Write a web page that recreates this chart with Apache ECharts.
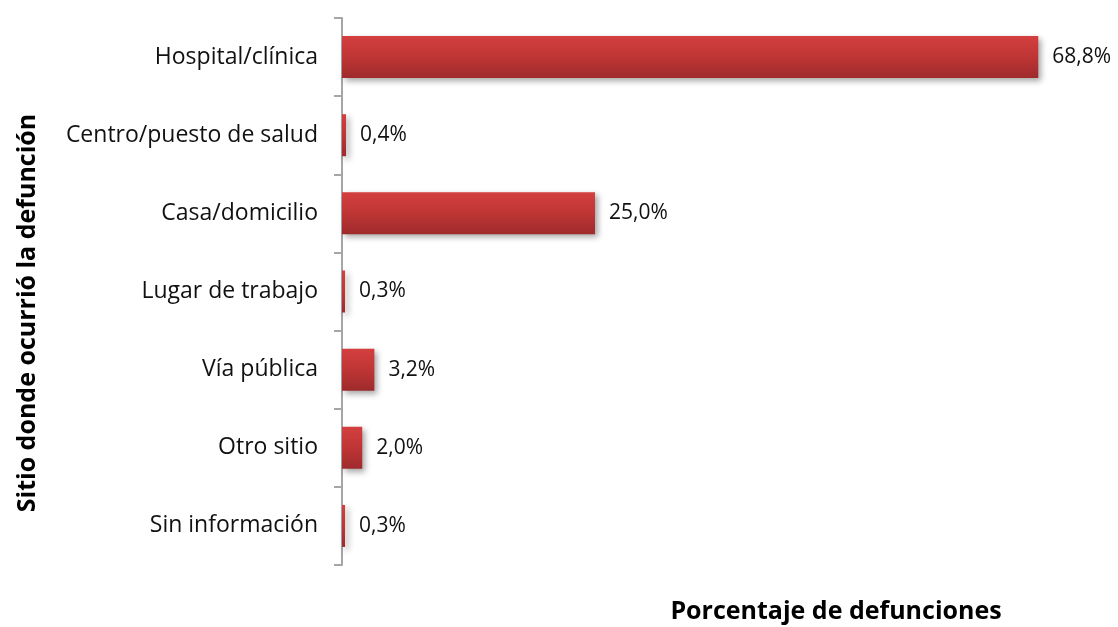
<!DOCTYPE html>
<html>
<head>
<meta charset="utf-8">
<script src="https://cdn.jsdelivr.net/npm/echarts@6/dist/echarts.min.js"></script>
<style>
  html, body { margin: 0; padding: 0; background: #fff; }
  #chart { width: 1118px; height: 627px; }
</style>
</head>
<body>
<div id="chart"></div>
<script>
const categories = ['Hospital/clínica', 'Centro/puesto de salud', 'Casa/domicilio', 'Lugar de trabajo', 'Vía pública', 'Otro sitio', 'Sin información'];
const percentages = [68.8, 0.4, 25.0, 0.3, 3.2, 2.0, 0.3];

const font = '"Open Sans", "Noto Sans", sans-serif';

const myChart = echarts.init(document.getElementById('chart'));

const option = {
  animation: false,
  textStyle: { fontFamily: font },
  grid: { left: 342, top: 18, bottom: 62, width: 759 },
  xAxis: {
    type: 'value',
    min: 0,
    max: 75,
    show: false
  },
  yAxis: {
    type: 'category',
    inverse: true,
    data: categories,
    axisLine: { lineStyle: { color: '#a6a6a6', width: 2 } },
    axisTick: { show: true, length: 8, lineStyle: { color: '#a6a6a6', width: 2 } },
    axisLabel: { color: '#111', fontSize: 23, fontFamily: font, margin: 24 }
  },
  graphic: [
    {
      type: 'text',
      rotation: Math.PI / 2,
      x: 28,
      y: 313,
      style: {
        text: 'Sitio donde ocurrió la defunción',
        font: 'bold 25px ' + font,
        fill: '#000',
        align: 'center',
        verticalAlign: 'middle'
      }
    },
    {
      type: 'text',
      x: 836,
      y: 612,
      style: {
        text: 'Porcentaje de defunciones',
        font: 'bold 25px ' + font,
        fill: '#000',
        align: 'center',
        verticalAlign: 'middle'
      }
    }
  ],
  series: [
    {
      type: 'bar',
      data: percentages,
      barWidth: 42,
      itemStyle: {
        color: new echarts.graphic.LinearGradient(0, 0, 0, 1, [
          { offset: 0, color: '#d43f3f' },
          { offset: 0.5, color: '#bf3535' },
          { offset: 1, color: '#9e2a2c' }
        ]),
        shadowColor: 'rgba(0, 0, 0, 0.35)',
        shadowBlur: 6,
        shadowOffsetX: 3,
        shadowOffsetY: 3
      },
      label: {
        show: true,
        position: 'right',
        distance: 14,
        color: '#111',
        fontSize: 21,
        fontFamily: font,
        formatter: p => p.value.toFixed(1).replace('.', ',') + '%'
      }
    }
  ]
};

option && myChart.setOption(option);
</script>
</body>
</html>
